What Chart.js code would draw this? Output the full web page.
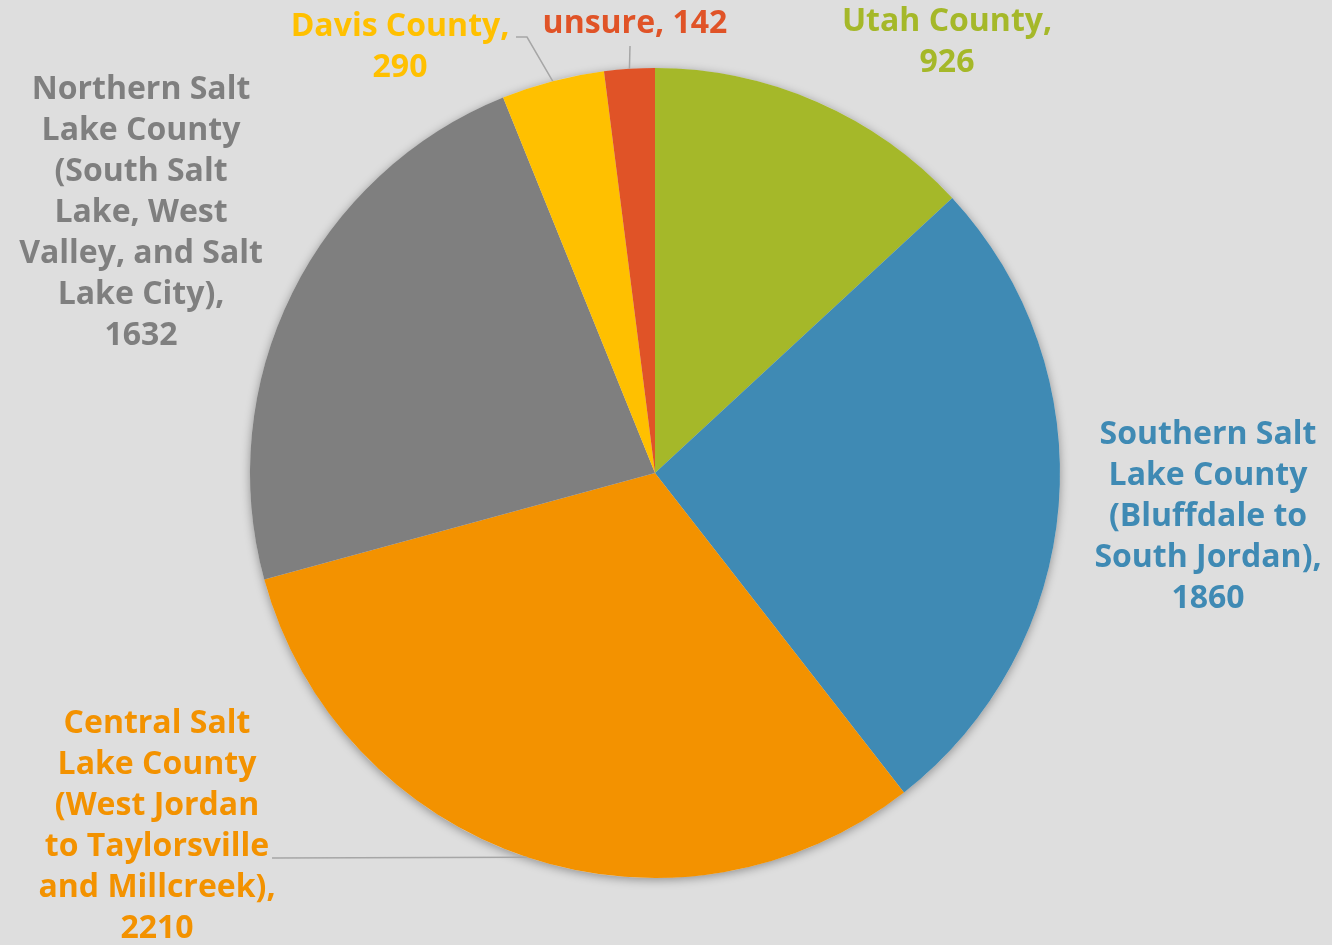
<!DOCTYPE html>
<html>
<head>
<meta charset="utf-8">
<script src="https://cdn.jsdelivr.net/npm/chart.js@4/dist/chart.umd.min.js"></script>
<style>
  html, body { margin: 0; padding: 0; background: #dedede; }
  #wrap { width: 1332px; height: 945px; }
</style>
</head>
<body>
<div id="wrap"><canvas id="regionChart"></canvas></div>
<script>
// Data
const regions = [
    'Utah County',
    'Southern Salt Lake County (Bluffdale to South Jordan)',
    'Central Salt Lake County (West Jordan to Taylorsville and Millcreek)',
    'Northern Salt Lake County (South Salt Lake, West Valley, and Salt Lake City)',
    'Davis County',
    'unsure'
];
const counts = [926, 1860, 2210, 1632, 290, 142];
const sliceColors = ['#a5b829', '#3f8ab4', '#f39200', '#7f7f7f', '#ffc000', '#e05327'];

// How each label is broken into lines and where it sits
const labelLines = [
    ['Utah County,', '926'],
    ['Southern Salt', 'Lake County', '(Bluffdale to', 'South Jordan),', '1860'],
    ['Central Salt', 'Lake County', '(West Jordan', 'to Taylorsville', 'and Millcreek),', '2210'],
    ['Northern Salt', 'Lake County', '(South Salt', 'Lake, West', 'Valley, and Salt', 'Lake City),', '1632'],
    ['Davis County,', '290'],
    ['unsure, 142']
];
const labelPos = [
    { x: 947, y: 22 },
    { x: 1208, y: 435 },
    { x: 157, y: 724 },
    { x: 141, y: 90 },
    { x: 400, y: 27 },
    { x: 635, y: 24 }
];
// leader lines: start point next to label, optional elbow, then the slice edge
const leaders = [
    null,
    null,
    { from: [272, 858] },
    null,
    { from: [516, 37], elbow: [527, 37] },
    { from: [630, 46] }
];

const LINE_H = 41;
const FONT = 'bold 32px "Open Sans", Lato, sans-serif';

// soft shadow under the whole pie
const pieShadow = {
    id: 'pieShadow',
    beforeDatasetsDraw(chart) {
        const arc = chart.getDatasetMeta(0).data[0];
        if (!arc) return;
        const ctx = chart.ctx;
        ctx.save();
        ctx.shadowColor = 'rgba(0,0,0,0.35)';
        ctx.shadowBlur = 10;
        ctx.shadowOffsetY = 2;
        ctx.fillStyle = '#dedede';
        ctx.beginPath();
        ctx.arc(arc.x, arc.y, arc.outerRadius, 0, Math.PI * 2);
        ctx.fill();
        ctx.restore();
    }
};

// labels outside the pie
const outsideLabels = {
    id: 'outsideLabels',
    afterDatasetsDraw(chart) {
        const ctx = chart.ctx;
        const arcs = chart.getDatasetMeta(0).data;
        ctx.save();
        arcs.forEach((arc, i) => {
            const p = arc.getProps(['x', 'y', 'startAngle', 'endAngle', 'outerRadius'], true);
            const mid = (p.startAngle + p.endAngle) / 2;
            const edge = [p.x + Math.cos(mid) * p.outerRadius, p.y + Math.sin(mid) * p.outerRadius];
            const ld = leaders[i];
            if (ld) {
                ctx.strokeStyle = '#a6a6a6';
                ctx.lineWidth = 1.5;
                ctx.beginPath();
                ctx.moveTo(ld.from[0], ld.from[1]);
                if (ld.elbow) ctx.lineTo(ld.elbow[0], ld.elbow[1]);
                ctx.lineTo(edge[0], edge[1]);
                ctx.stroke();
            }
            ctx.fillStyle = sliceColors[i];
            ctx.font = FONT;
            ctx.textAlign = 'center';
            ctx.textBaseline = 'middle';
            labelLines[i].forEach((line, j) => {
                ctx.fillText(line, labelPos[i].x, labelPos[i].y + j * LINE_H);
            });
        });
        ctx.restore();
    }
};

const ctx = document.getElementById('regionChart').getContext('2d');
new Chart(ctx, {
    type: 'pie',
    data: {
        labels: regions,
        datasets: [{
            data: counts,
            backgroundColor: sliceColors,
            borderWidth: 0
        }]
    },
    options: {
        responsive: true,
        maintainAspectRatio: false,
        animation: false,
        layout: {
            padding: { left: 250, right: 272, top: 68, bottom: 67 }
        },
        plugins: {
            legend: { display: false },
            tooltip: { enabled: false }
        }
    },
    plugins: [pieShadow, outsideLabels]
});
</script>
</body>
</html>
